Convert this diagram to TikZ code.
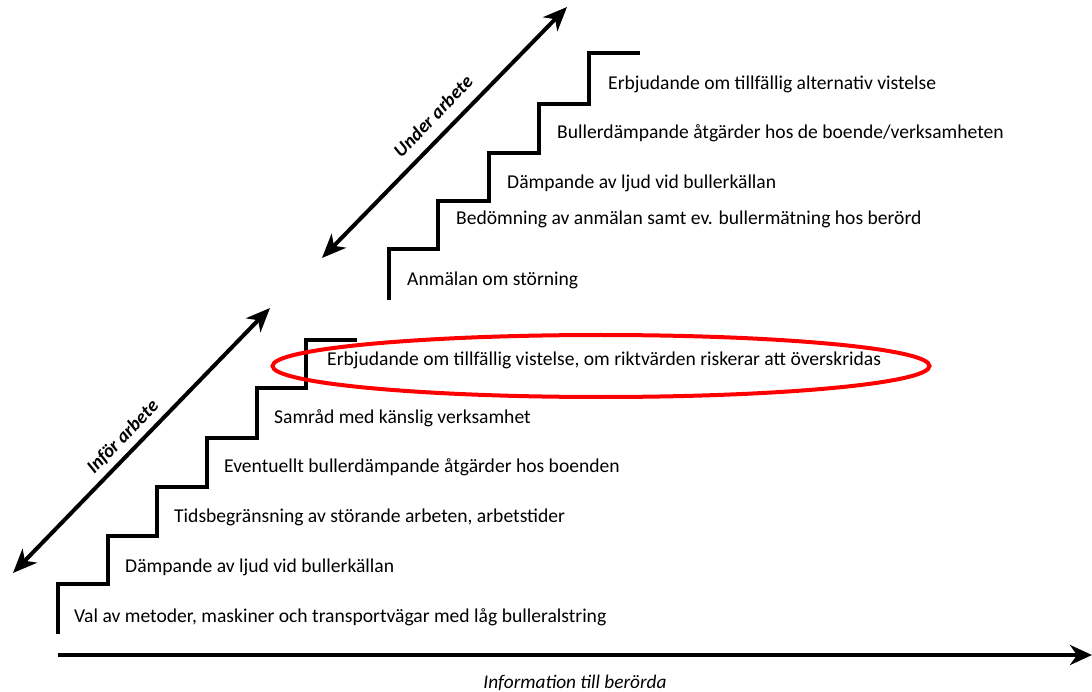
\documentclass[tikz,border=0pt]{standalone}
\usepackage{fontspec}
\setmainfont{Carlito}
\usetikzlibrary{arrows.meta,shapes.geometric}
\begin{document}
\begin{tikzpicture}[x=1pt,y=-1pt,
  stair/.style={line width=4pt, line join=miter},
  lbl/.style={anchor=west, inner sep=0pt, font=\fontsize{19.6}{23}\selectfont},
  dirlbl/.style={inner sep=0pt, font=\fontsize{19}{22}\selectfont\bfseries\itshape, rotate=46},
  dblarrow/.style={line width=4pt, {Stealth[length=24pt,width=20pt,inset=7pt]}-{Stealth[length=24pt,width=20pt,inset=7pt]}},
  infarrow/.style={line width=4pt, -{Stealth[length=22pt,width=20pt,inset=7pt]}}]
\useasboundingbox (0,0) rectangle (1092,692);
% lower staircase
\draw[stair] (58,634) -- (58,584) -- (108,584) -- (108,536) -- (157,536) -- (157,487) -- (207,487) -- (207,438) -- (257,438) -- (257,388) -- (306,388) -- (306,340) -- (357,340);
% upper staircase
\draw[stair] (389,300) -- (389,249) -- (438,249) -- (438,201) -- (489,201) -- (489,153) -- (539,153) -- (539,104) -- (589,104) -- (589,53) -- (640,53);
% labels lower
\node[lbl] (l1) at (74,617) {Val av metoder, maskiner och transportvägar med låg bulleralstring};
\node[lbl] (l2) at (125,567) {Dämpande av ljud vid bullerkällan};
\node[lbl] (l3) at (174,517) {Tidsbegränsning av störande arbeten, arbetstider};
\node[lbl] (l4) at (224,467) {Eventuellt bullerdämpande åtgärder hos boenden};
\node[lbl] (l5) at (274,418) {Samråd med känslig verksamhet};
\node[lbl] (l6) at (327,360) {Erbjudande om tillfällig vistelse, om riktvärden riskerar att överskridas};
% labels upper
\node[lbl] (u1) at (407,280) {Anmälan om störning};
\node[lbl] (u2) at (456,219) {Bedömning av anmälan samt ev. bullermätning hos berörd};
\node[lbl] (u3) at (507,183) {Dämpande av ljud vid bullerkällan};
\node[lbl] (u4) at (557,133) {Bullerdämpande åtgärder hos de boende/verksamheten};
\node[lbl] (u5) at (608,84) {Erbjudande om tillfällig alternativ vistelse};
% red ellipse
\node[draw=red, line width=4pt, ellipse, minimum width=657pt, minimum height=62pt, inner sep=0pt] (hl) at (601,366) {};
% diagonal arrows
\coordinate (a1) at (13,573);
\coordinate (a2) at (270,308);
\draw[dblarrow] (a1) -- (a2);
\node[dirlbl] (t1) at (123,437) {Inför arbete};
\coordinate (b1) at (322,258);
\coordinate (b2) at (567,7);
\draw[dblarrow] (b1) -- (b2);
\node[dirlbl] (t2) at (433,116) {Under arbete};
% bottom arrow
\coordinate (c1) at (58,655);
\coordinate (c2) at (1092,655);
\draw[infarrow] (c1) -- (c2);
\node[inner sep=0pt, font=\fontsize{19.3}{22}\selectfont\itshape] (info) at (575,683) {Information till berörda};
\end{tikzpicture}
\end{document}
